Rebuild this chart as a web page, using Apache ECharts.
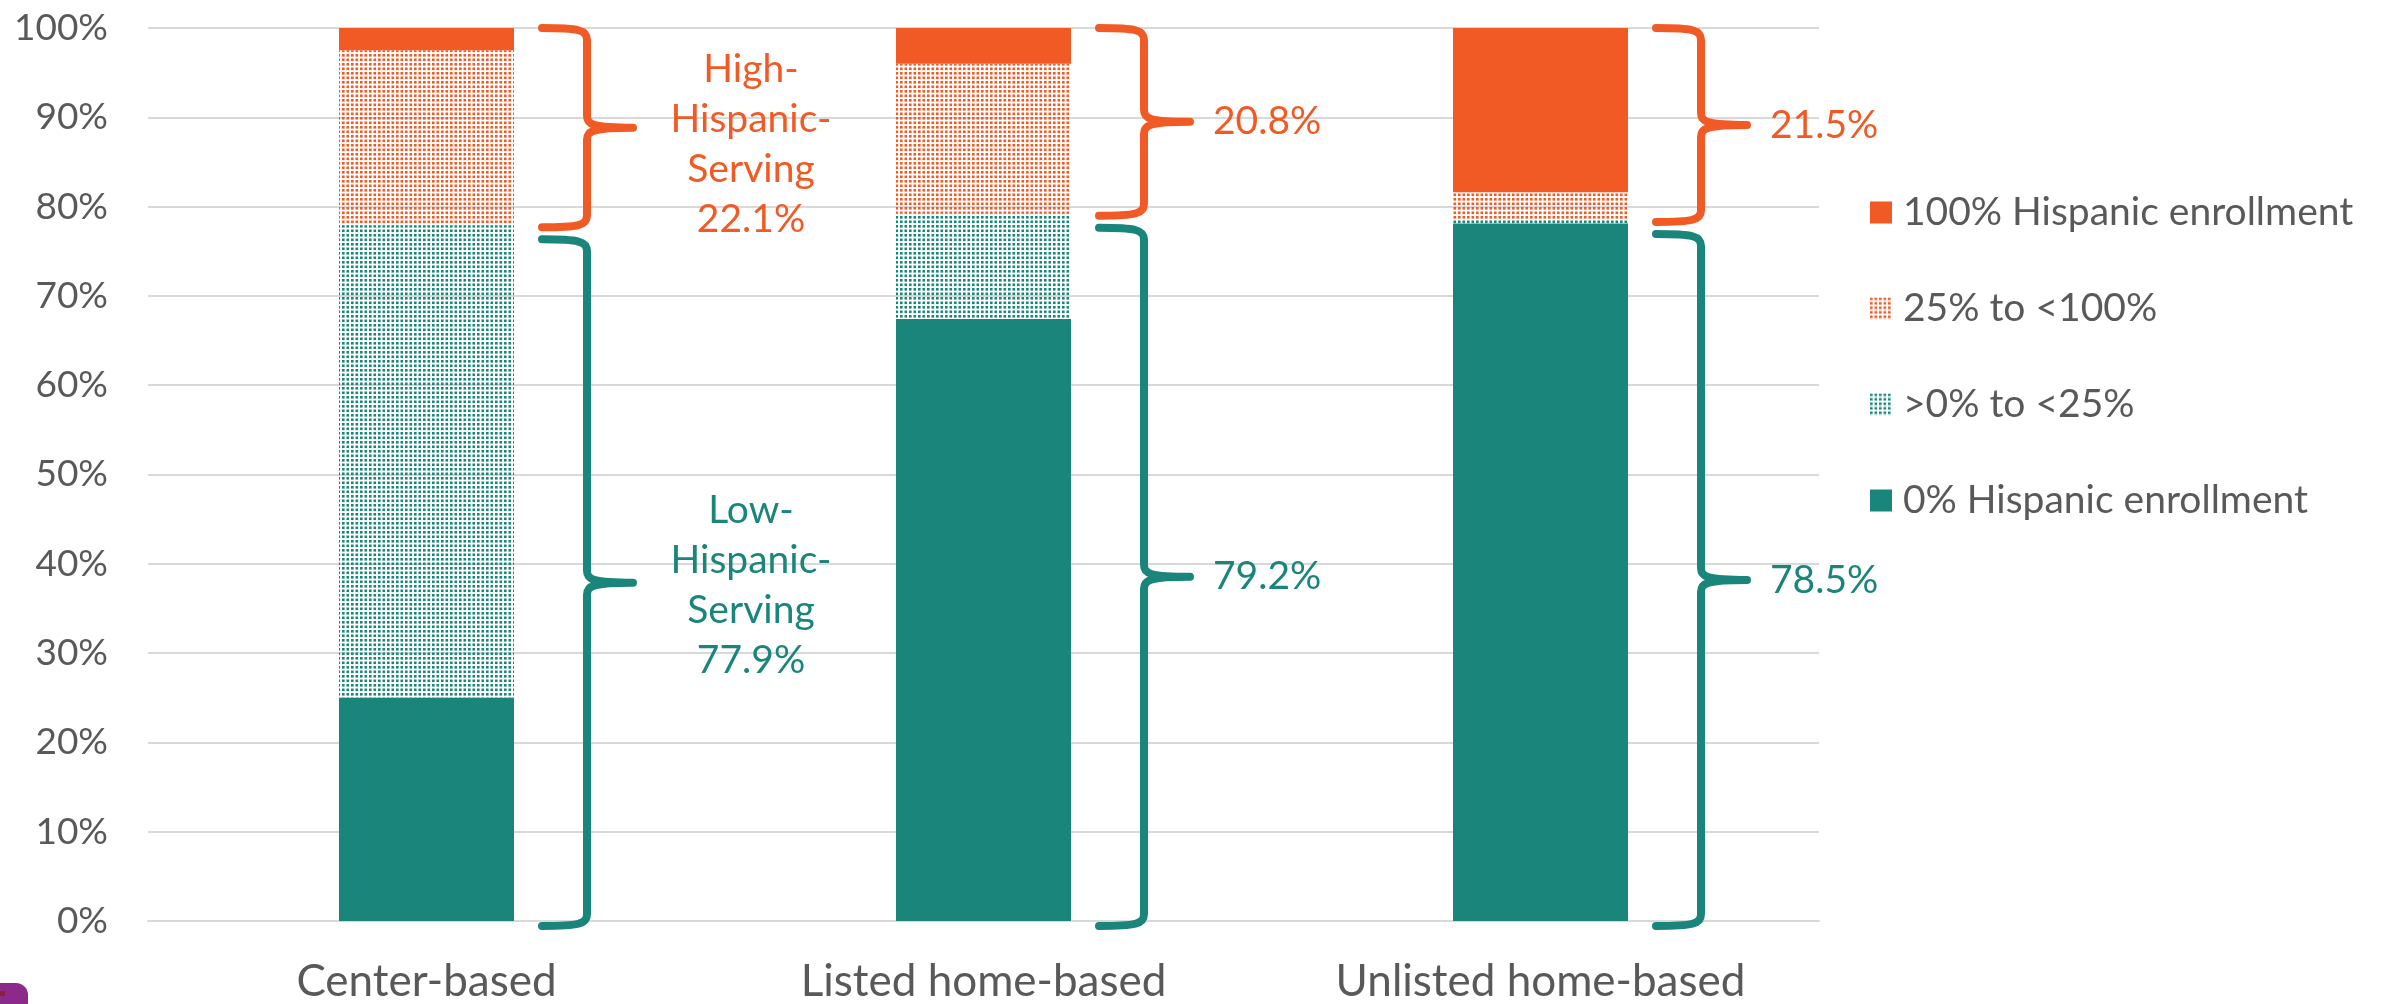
<!DOCTYPE html>
<html>
<head>
<meta charset="utf-8">
<script src="https://cdn.jsdelivr.net/npm/echarts@6/dist/echarts.min.js"></script>
<style>
  html, body { margin: 0; padding: 0; background: #ffffff; }
  #chart { width: 2382px; height: 1004px; }
</style>
</head>
<body>
<div id="chart"></div>
<script>
// Share of programs by level of Hispanic enrollment (percent of each program type)
const categories = ['Center-based', 'Listed home-based', 'Unlisted home-based'];
const zeroHispanic = [25.0, 67.4, 78.1];   // 0% Hispanic enrollment
const underQuarter = [52.9, 11.8, 0.4];    // >0% to <25%
const quarterToAll = [19.6, 16.8, 3.1];    // 25% to <100%
const allHispanic = [2.5, 4.0, 18.4];      // 100% Hispanic enrollment

// Group totals shown next to the braces
const lowServing = [77.9, 79.2, 78.5];
const highServing = [22.1, 20.8, 21.5];
const lowNames = ['Low-\nHispanic-\nServing\n', '', ''];
const highNames = ['High-\nHispanic-\nServing\n', '', ''];

const seriesNames = ['0% Hispanic enrollment', '>0% to <25%', '25% to <100%', '100% Hispanic enrollment'];

const ORANGE = '#F15A24';
const TEAL = '#1A857A';
const TEXT = '#595959';
const FONT = 'Lato, "Open Sans", sans-serif';
const BAR_W = 175;

// Small dotted fill used for the partial-enrollment segments
function dotted(color) {
  const c = document.createElement('canvas');
  c.width = 9; c.height = 9;
  const g = c.getContext('2d');
  g.fillStyle = color;
  [[0, 0], [4.5, 0], [0, 4.5], [4.5, 4.5]].forEach(p => g.fillRect(p[0], p[1], 2.6, 2.6));
  return { image: c, repeat: 'repeat' };
}

function bracePath(xa, xs, xt, top, bot) {
  const mid = (top + bot) / 2, r = 12;
  return 'M' + xa + ',' + top +
    ' C' + (xs - 8) + ',' + top + ' ' + xs + ',' + (top + 2) + ' ' + xs + ',' + (top + r) +
    ' L' + xs + ',' + (mid - r) +
    ' C' + xs + ',' + (mid - 3) + ' ' + (xs + 6) + ',' + mid + ' ' + xt + ',' + mid +
    ' M' + xt + ',' + mid +
    ' C' + (xs + 6) + ',' + mid + ' ' + xs + ',' + (mid + 3) + ' ' + xs + ',' + (mid + r) +
    ' L' + xs + ',' + (bot - r) +
    ' C' + xs + ',' + (bot - 2) + ' ' + (xs - 8) + ',' + bot + ' ' + xa + ',' + bot;
}

function renderBraces(params, api) {
  const i = api.value(0);
  const low = api.value(1);
  const high = api.value(2);
  const base = api.coord([i, 0]);
  const yTop = api.coord([i, low + high])[1];
  const yLow = api.coord([i, low])[1];
  const right = base[0] + BAR_W / 2;
  const xa = right + 28, xs = right + 73, xt = right + 119;

  const hTop = yTop, hBot = yLow + 2;
  const lTop = yLow + 14, lBot = base[1] + 5;
  const hMid = (hTop + hBot) / 2, lMid = (lTop + lBot) / 2;

  const children = [
    { type: 'path', shape: { pathData: bracePath(xa, xs, xt, hTop, hBot) },
      style: { fill: 'none', stroke: ORANGE, lineWidth: 8, lineCap: 'round', lineJoin: 'round' } },
    { type: 'path', shape: { pathData: bracePath(xa, xs, xt, lTop, lBot) },
      style: { fill: 'none', stroke: TEAL, lineWidth: 8, lineCap: 'round', lineJoin: 'round' } }
  ];

  const hText = highNames[i] + highServing[i].toFixed(1) + '%';
  const lText = lowNames[i] + lowServing[i].toFixed(1) + '%';
  const multi = highNames[i] !== '';
  const textBase = { fontSize: 39, fontFamily: FONT, lineHeight: 50, verticalAlign: 'middle' };

  if (multi) {
    children.push({ type: 'text', style: Object.assign({}, textBase, {
      text: hText, x: xt + 118, y: hMid + 17, fill: ORANGE, align: 'center' }) });
    children.push({ type: 'text', style: Object.assign({}, textBase, {
      text: lText, x: xt + 118, y: lMid + 3, fill: TEAL, align: 'center' }) });
  } else {
    children.push({ type: 'text', style: Object.assign({}, textBase, {
      text: hText, x: xt + 23, y: hMid, fill: ORANGE, align: 'left' }) });
    children.push({ type: 'text', style: Object.assign({}, textBase, {
      text: lText, x: xt + 23, y: lMid, fill: TEAL, align: 'left' }) });
  }
  return { type: 'group', children: children };
}

const chart = echarts.init(document.getElementById('chart'), null, { renderer: 'canvas' });

const stackValues = [zeroHispanic, underQuarter, quarterToAll, allHispanic];
const stackColors = [TEAL, dotted(TEAL), dotted(ORANGE), ORANGE];

const series = stackValues.map((vals, k) => ({
  name: seriesNames[k],
  type: 'bar',
  stack: 'share',
  barWidth: BAR_W,
  data: vals,
  itemStyle: { color: stackColors[k] },
  emphasis: { disabled: true }
}));

series.push({
  type: 'custom',
  name: 'braces',
  silent: true,
  clip: false,
  z: 10,
  encode: { x: 0, y: 1 },
  data: categories.map((c, i) => [i, lowServing[i], highServing[i]]),
  renderItem: renderBraces
});

chart.setOption({
  animation: false,
  backgroundColor: '#ffffff',
  grid: { left: 148, right: 563, top: 28, bottom: 82, containLabel: false },
  legend: {
    data: seriesNames.slice().reverse(),
    orient: 'vertical',
    left: 1865,
    top: 187,
    icon: 'rect',
    itemWidth: 22,
    itemHeight: 22,
    itemGap: 55,
    selectedMode: false,
    textStyle: { fontSize: 39, color: TEXT, fontFamily: FONT, lineHeight: 41, padding: [0, 0, 0, 6] }
  },
  xAxis: {
    type: 'category',
    data: categories,
    axisLine: { show: true, lineStyle: { color: '#d9d9d9', width: 2 } },
    axisTick: { show: false },
    axisLabel: { fontSize: 44, color: TEXT, fontFamily: FONT, margin: 39 }
  },
  yAxis: {
    type: 'value',
    min: 0,
    max: 100,
    interval: 10,
    axisLine: { show: false },
    axisTick: { show: false },
    splitLine: { lineStyle: { color: '#d9d9d9', width: 2 } },
    axisLabel: { formatter: '{value}%', fontSize: 37, color: TEXT, fontFamily: FONT, margin: 40 }
  },
  graphic: [
    { type: 'rect', left: 0, top: 983, shape: { width: 28, height: 30, r: [0, 12, 0, 0] },
      style: { fill: '#8C2A8C' }, silent: true },
    { type: 'rect', left: 0, top: 991, shape: { width: 5, height: 5 },
      style: { fill: '#8E1F3A' }, silent: true }
  ],
  series: series
});
</script>
</body>
</html>
